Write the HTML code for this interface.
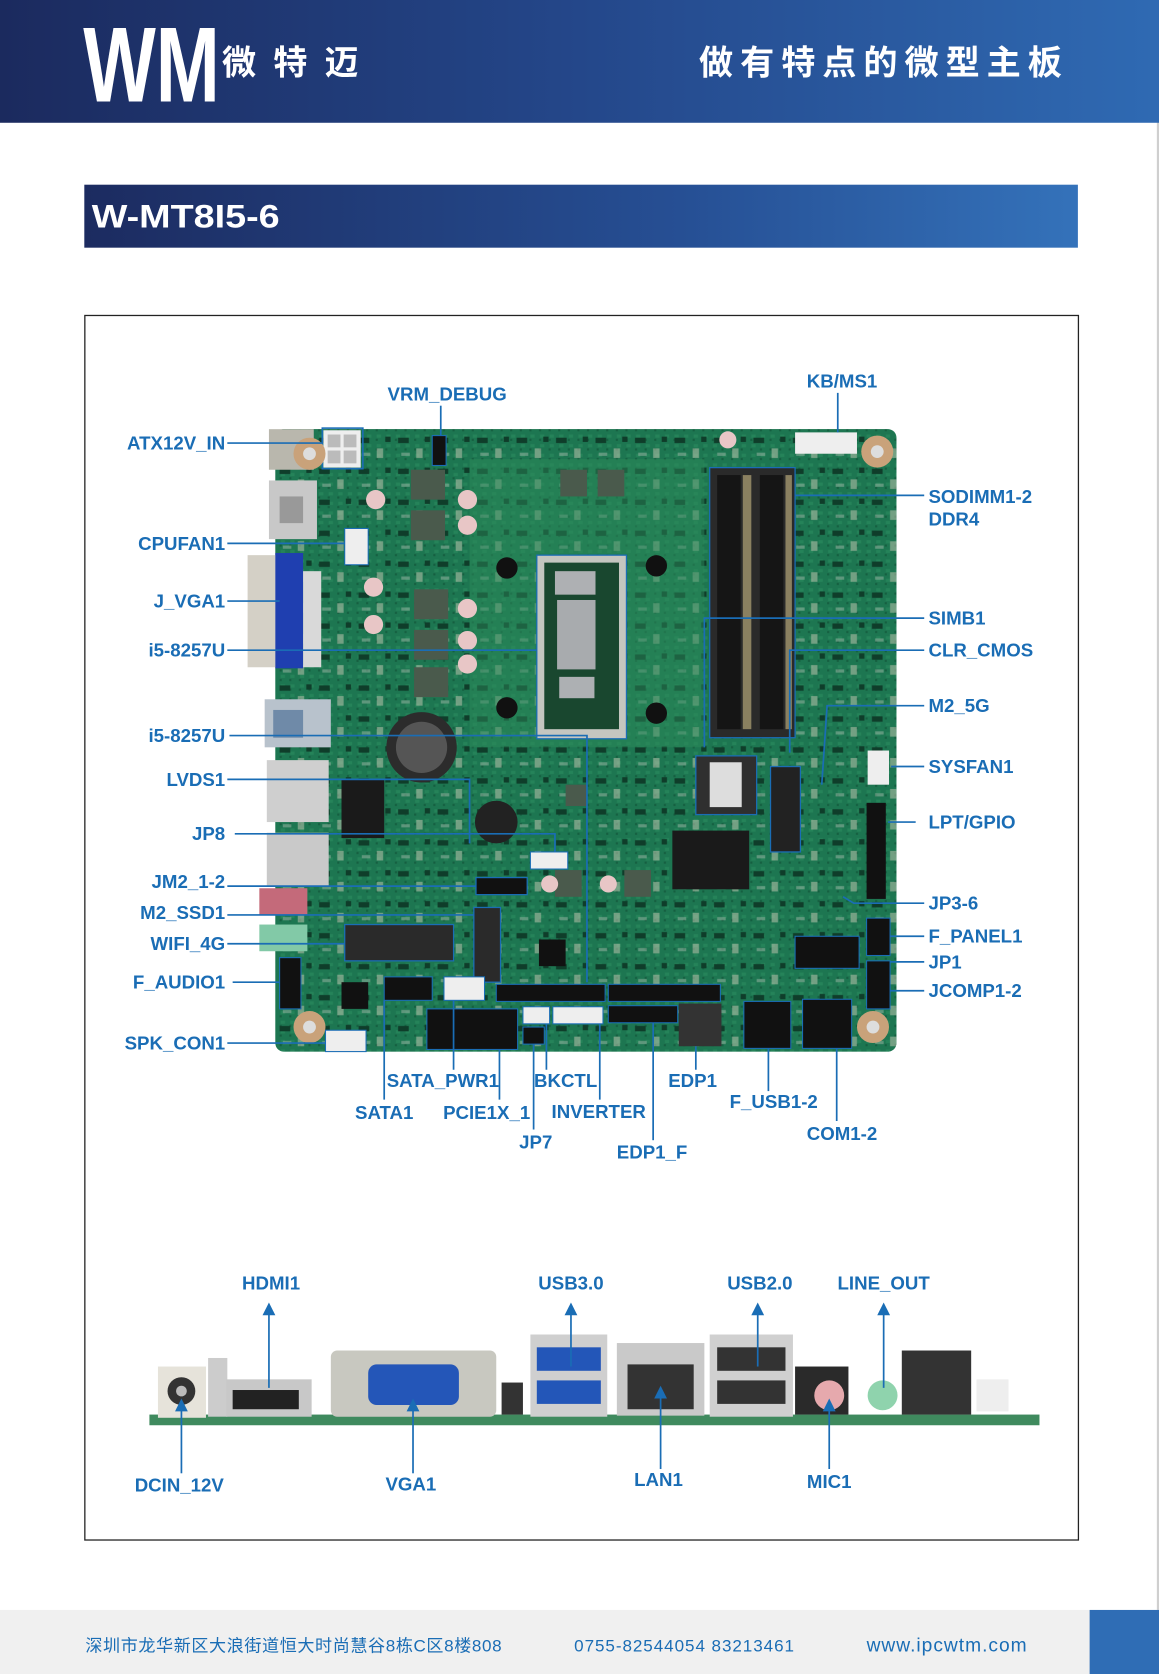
<!DOCTYPE html>
<html><head><meta charset="utf-8"><style>
html,body{margin:0;padding:0;background:#fff;}
svg{display:block;}
.l{font-family:"Liberation Sans",Arial,sans-serif;font-weight:bold;font-size:17.5px;fill:#1a6db5;}
.ln{stroke:#1a6db5;stroke-width:1.6;fill:none;}
.cn{fill:none;stroke:#1a6db5;stroke-width:1.5;}
</style></head><body>
<svg width="1159" height="1674" viewBox="0 0 1086 1568" preserveAspectRatio="none" xmlns="http://www.w3.org/2000/svg">
<defs>
<linearGradient id="hg" x1="0" x2="1" y1="0" y2="0"><stop offset="0" stop-color="#1b2a5e"/><stop offset="0.5" stop-color="#24478a"/><stop offset="1" stop-color="#2f6ab3"/></linearGradient>
<linearGradient id="tg" x1="0" x2="1"><stop offset="0" stop-color="#1c2b60"/><stop offset="0.6" stop-color="#264f94"/><stop offset="1" stop-color="#3472ba"/></linearGradient>
<pattern id="dots" width="9" height="9" patternUnits="userSpaceOnUse"><rect width="9" height="9" fill="#1d7450"/><rect x="2" y="2" width="4" height="3" fill="#2a8a60"/><rect x="1" y="6" width="2" height="2" fill="#0e4a33"/></pattern>
<pattern id="comp" width="37" height="29" patternUnits="userSpaceOnUse"><rect x="3" y="4" width="10" height="5" fill="#0f3d2a"/><rect x="20" y="14" width="6" height="9" fill="#c9c9b5" opacity="0.5"/><rect x="28" y="3" width="5" height="5" fill="#0f3d2a"/><rect x="6" y="18" width="8" height="3" fill="#9fb8a8" opacity="0.5"/></pattern>
</defs>
<rect width="1086" height="1568" fill="#fff"/>
<rect x="1084" y="0" width="2" height="1568" fill="#cfcfcf"/>
<rect x="0" y="0" width="1086" height="115" fill="url(#hg)"/>
<text x="78" y="95" font-family="Liberation Sans,sans-serif" font-weight="bold" font-size="100" fill="#fff" textLength="128" lengthAdjust="spacingAndGlyphs">WM</text>
<text x="208" y="70" font-family="Liberation Sans,'Noto Sans CJK SC',sans-serif" font-weight="bold" font-size="32" fill="#fff" textLength="128">微特迈</text>
<text x="655" y="70" font-family="Liberation Sans,'Noto Sans CJK SC',sans-serif" font-weight="bold" font-size="32" fill="#fff" textLength="340">做有特点的微型主板</text>
<rect x="79" y="173" width="931" height="59" fill="url(#tg)"/>
<text x="86" y="213" font-family="Liberation Sans,sans-serif" font-weight="bold" font-size="30" fill="#fff" textLength="176" lengthAdjust="spacingAndGlyphs">W-MT8I5-6</text>
<rect x="79.5" y="295.5" width="931" height="1147" fill="none" stroke="#222" stroke-width="1.2"/>
<!-- board -->
<rect x="258" y="402" width="582" height="583" rx="8" fill="url(#dots)"/>
<rect x="258" y="402" width="582" height="583" rx="8" fill="#1f7a52" opacity="0.45"/>
<rect x="258" y="402" width="582" height="583" rx="8" fill="url(#comp)"/>
<rect x="440" y="430" width="220" height="270" fill="#2b8a5a" opacity="0.5"/>
<rect x="252" y="402" width="42" height="38" fill="#b9b7ad"/>
<rect x="252" y="450" width="45" height="55" fill="#c8c8c8"/><rect x="262" y="465" width="22" height="25" fill="#999"/>
<rect x="232" y="520" width="28" height="105" fill="#d4d0c6"/>
<rect x="258" y="518" width="26" height="108" fill="#1f3fb0"/>
<rect x="284" y="535" width="17" height="90" fill="#d9d9d9"/>
<rect x="248" y="655" width="62" height="45" fill="#b8c2cc"/><rect x="256" y="665" width="28" height="26" fill="#6f8aa8"/>
<rect x="250" y="712" width="58" height="58" fill="#cfcfcf"/>
<rect x="250" y="780" width="58" height="50" fill="#c9c9c9"/>
<rect x="243" y="832" width="45" height="25" fill="#c46a7a"/>
<rect x="243" y="866" width="45" height="25" fill="#82c9a7"/>
<rect x="303" y="403" width="35" height="35" fill="#eee"/>
<rect x="307" y="407" width="12" height="12" fill="#bbb"/><rect x="322" y="407" width="12" height="12" fill="#bbb"/><rect x="307" y="422" width="12" height="12" fill="#bbb"/><rect x="322" y="422" width="12" height="12" fill="#bbb"/>
<rect x="302" y="401" width="38" height="38" class="cn"/>
<circle cx="290" cy="425" r="15" fill="#c9a27a"/><circle cx="290" cy="425" r="6" fill="#ddd"/>
<circle cx="822" cy="423" r="15" fill="#c9a27a"/><circle cx="822" cy="423" r="6" fill="#ddd"/>
<circle cx="290" cy="962" r="15" fill="#c9a27a"/><circle cx="290" cy="962" r="6" fill="#ddd"/>
<circle cx="818" cy="962" r="15" fill="#c9a27a"/><circle cx="818" cy="962" r="6" fill="#ddd"/>
<g fill="#4a5a4c"><rect x="385" y="440" width="32" height="28"/><rect x="385" y="478" width="32" height="28"/><rect x="388" y="552" width="32" height="28"/><rect x="388" y="590" width="32" height="28"/><rect x="388" y="625" width="32" height="28"/><rect x="525" y="440" width="25" height="25"/><rect x="560" y="440" width="25" height="25"/><rect x="520" y="815" width="25" height="25"/><rect x="585" y="815" width="25" height="25"/><rect x="530" y="735" width="20" height="20"/></g>
<g fill="#e8c6c6"><circle cx="352" cy="468" r="9"/><circle cx="438" cy="468" r="9"/><circle cx="438" cy="492" r="9"/><circle cx="350" cy="550" r="9"/><circle cx="350" cy="585" r="9"/><circle cx="438" cy="570" r="9"/><circle cx="438" cy="600" r="9"/><circle cx="438" cy="622" r="9"/><circle cx="515" cy="828" r="8"/><circle cx="570" cy="828" r="8"/><circle cx="682" cy="412" r="8"/></g>
<rect x="503" y="520" width="84" height="172" fill="#c4c6c0" stroke="#1a6db5" stroke-width="1.2"/>
<rect x="510" y="527" width="70" height="156" fill="#19472f"/>
<rect x="520" y="535" width="38" height="22" fill="#aeb0b3"/><rect x="522" y="562" width="36" height="65" fill="#a8abae"/><rect x="524" y="634" width="33" height="20" fill="#adb0b3"/>
<circle cx="475" cy="532" r="10" fill="#111"/><circle cx="615" cy="530" r="10" fill="#111"/><circle cx="475" cy="663" r="10" fill="#111"/><circle cx="615" cy="668" r="10" fill="#111"/>
<rect x="665" y="438" width="80" height="253" fill="#2a2a2a" stroke="#1a6db5" stroke-width="1.2"/>
<rect x="672" y="445" width="22" height="238" fill="#151515"/><rect x="712" y="445" width="22" height="238" fill="#151515"/>
<rect x="696" y="445" width="8" height="238" fill="#8a8060"/><rect x="736" y="445" width="6" height="238" fill="#8a8060"/>
<rect x="745" y="405" width="58" height="20" fill="#eee"/>
<circle cx="395" cy="700" r="33" fill="#2c2c2c"/><circle cx="395" cy="700" r="24" fill="#555"/>
<circle cx="465" cy="770" r="20" fill="#222"/>
<rect x="630" y="778" width="72" height="55" fill="#1a1a1a"/>
<rect x="652" y="708" width="57" height="55" fill="#2f2f2f" stroke="#1a6db5" stroke-width="1.2"/><rect x="665" y="714" width="30" height="42" fill="#ddd"/>
<rect x="722" y="718" width="28" height="80" fill="#222" stroke="#1a6db5" stroke-width="1.2"/>
<rect x="320" y="730" width="40" height="55" fill="#1a1a1a"/>
<rect x="505" y="880" width="25" height="25" fill="#111"/><rect x="320" y="920" width="25" height="25" fill="#111"/>
<rect x="812" y="752" width="18" height="90" fill="#111"/>
<rect x="813" y="703" width="20" height="32" fill="#eee"/>
<rect x="323" y="866" width="102" height="34" fill="#2a2a2a" stroke="#1a6db5" stroke-width="1.2"/>
<rect x="444" y="850" width="25" height="70" fill="#2a2a2a" stroke="#1a6db5" stroke-width="1.2"/>
<rect x="446" y="822" width="48" height="16" fill="#111" stroke="#1a6db5" stroke-width="1.2"/>
<rect x="360" y="915" width="45" height="22" fill="#111" stroke="#1a6db5"/>
<rect x="416" y="915" width="38" height="22" fill="#eee" stroke="#1a6db5"/>
<rect x="465" y="922" width="102" height="16" fill="#111" stroke="#1a6db5"/>
<rect x="570" y="922" width="105" height="16" fill="#111" stroke="#1a6db5"/>
<rect x="400" y="945" width="85" height="38" fill="#111" stroke="#1a6db5"/>
<rect x="490" y="943" width="25" height="16" fill="#eee" stroke="#1a6db5"/>
<rect x="518" y="943" width="47" height="16" fill="#eee" stroke="#1a6db5"/>
<rect x="570" y="942" width="65" height="16" fill="#111" stroke="#1a6db5"/>
<rect x="490" y="962" width="20" height="16" fill="#111" stroke="#1a6db5"/>
<rect x="636" y="940" width="40" height="40" fill="#333"/>
<rect x="697" y="938" width="44" height="44" fill="#111" stroke="#1a6db5"/>
<rect x="752" y="936" width="46" height="46" fill="#111" stroke="#1a6db5"/>
<rect x="745" y="877" width="60" height="30" fill="#111" stroke="#1a6db5"/>
<rect x="812" y="860" width="22" height="35" fill="#111" stroke="#1a6db5"/>
<rect x="812" y="900" width="22" height="45" fill="#111" stroke="#1a6db5"/>
<rect x="262" y="897" width="20" height="48" fill="#111" stroke="#1a6db5"/>
<rect x="305" y="965" width="38" height="20" fill="#eee" stroke="#1a6db5"/>
<rect x="323" y="495" width="22" height="34" fill="#eee" stroke="#1a6db5"/>
<rect x="497" y="798" width="35" height="16" fill="#eee" stroke="#1a6db5"/>
<rect x="405" y="408" width="13" height="28" fill="#111" stroke="#1a6db5"/>
<g class="ln">
<line x1="213" y1="415" x2="302" y2="415"/>
<line x1="213" y1="509" x2="323" y2="509"/>
<line x1="213" y1="563" x2="262" y2="563"/>
<line x1="213" y1="609" x2="503" y2="609"/>
<polyline points="215,689 550,689 550,920"/>
<polyline points="213,730 440,730 440,790"/>
<polyline points="220,781 520,781 520,798"/>
<line x1="213" y1="830" x2="446" y2="830"/>
<line x1="213" y1="857" x2="444" y2="857"/>
<line x1="213" y1="884" x2="323" y2="884"/>
<line x1="218" y1="920" x2="262" y2="920"/>
<line x1="213" y1="977" x2="305" y2="977"/>
<polyline points="413,380 413,408"/>
<polyline points="785,368 785,405"/>
<line x1="745" y1="464" x2="866" y2="464"/>
<polyline points="660,700 660,579 866,579"/>
<polyline points="740,705 740,609 866,609"/>
<polyline points="770,735 775,661 866,661"/>
<line x1="835" y1="718" x2="866" y2="718"/>
<line x1="832" y1="770" x2="858" y2="770"/>
<polyline points="790,840 800,846 866,846"/>
<line x1="834" y1="877" x2="866" y2="877"/>
<line x1="834" y1="901" x2="866" y2="901"/>
<line x1="834" y1="928" x2="866" y2="928"/>
<line x1="360" y1="937" x2="360" y2="1030"/>
<line x1="425" y1="937" x2="425" y2="1002"/>
<line x1="468" y1="983" x2="468" y2="1030"/>
<line x1="500" y1="978" x2="500" y2="1058"/>
<line x1="512" y1="959" x2="512" y2="1002"/>
<line x1="562" y1="959" x2="562" y2="1030"/>
<line x1="612" y1="958" x2="612" y2="1068"/>
<line x1="652" y1="980" x2="652" y2="1002"/>
<line x1="720" y1="982" x2="720" y2="1022"/>
<line x1="784" y1="982" x2="784" y2="1050"/>
</g>
<g class="l">
<text x="419" y="375" text-anchor="middle">VRM_DEBUG</text>
<text x="789" y="363" text-anchor="middle">KB/MS1</text>
<g text-anchor="end">
<text x="211" y="421">ATX12V_IN</text>
<text x="211" y="515">CPUFAN1</text>
<text x="211" y="569">J_VGA1</text>
<text x="211" y="615">i5-8257U</text>
<text x="211" y="695">i5-8257U</text>
<text x="211" y="736">LVDS1</text>
<text x="211" y="787">JP8</text>
<text x="211" y="832">JM2_1-2</text>
<text x="211" y="861">M2_SSD1</text>
<text x="211" y="890">WIFI_4G</text>
<text x="211" y="926">F_AUDIO1</text>
<text x="211" y="983">SPK_CON1</text>
</g>
<text x="870" y="471">SODIMM1-2</text>
<text x="870" y="492">DDR4</text>
<text x="870" y="585">SIMB1</text>
<text x="870" y="615">CLR_CMOS</text>
<text x="870" y="667">M2_5G</text>
<text x="870" y="724">SYSFAN1</text>
<text x="870" y="776">LPT/GPIO</text>
<text x="870" y="852">JP3-6</text>
<text x="870" y="883">F_PANEL1</text>
<text x="870" y="907">JP1</text>
<text x="870" y="934">JCOMP1-2</text>
<g text-anchor="middle">
<text x="415" y="1018">SATA_PWR1</text>
<text x="360" y="1048">SATA1</text>
<text x="456" y="1048">PCIE1X_1</text>
<text x="530" y="1018">BKCTL</text>
<text x="561" y="1047">INVERTER</text>
<text x="502" y="1076">JP7</text>
<text x="649" y="1018">EDP1</text>
<text x="611" y="1085">EDP1_F</text>
<text x="725" y="1038">F_USB1-2</text>
<text x="789" y="1068">COM1-2</text>
<text x="254" y="1208">HDMI1</text>
<text x="535" y="1208">USB3.0</text>
<text x="712" y="1208">USB2.0</text>
<text x="828" y="1208">LINE_OUT</text>
<text x="168" y="1397">DCIN_12V</text>
<text x="385" y="1396">VGA1</text>
<text x="617" y="1392">LAN1</text>
<text x="777" y="1394">MIC1</text>
</g>
</g>
<rect x="140" y="1325" width="834" height="10" fill="#3f8a5e"/>
<rect x="148" y="1280" width="45" height="48" fill="#e6e3da"/><circle cx="170" cy="1303" r="13" fill="#333"/><circle cx="170" cy="1303" r="5" fill="#bbb"/>
<rect x="195" y="1272" width="18" height="55" fill="#ccc"/>
<rect x="212" y="1292" width="80" height="35" fill="#c8c8c8"/><rect x="218" y="1302" width="62" height="18" fill="#222"/>
<rect x="310" y="1265" width="155" height="62" rx="6" fill="#c8c8c0"/><rect x="345" y="1278" width="85" height="38" rx="8" fill="#2456b8"/>
<rect x="470" y="1295" width="20" height="30" fill="#333"/>
<rect x="497" y="1250" width="72" height="77" fill="#cfcfcf"/><rect x="503" y="1262" width="60" height="22" fill="#2356b8"/><rect x="503" y="1293" width="60" height="22" fill="#2356b8"/>
<rect x="578" y="1258" width="82" height="68" fill="#c9c9c9"/><rect x="588" y="1278" width="62" height="42" fill="#333"/>
<rect x="665" y="1250" width="78" height="77" fill="#d0d0d0"/><rect x="672" y="1262" width="64" height="22" fill="#333"/><rect x="672" y="1293" width="64" height="22" fill="#333"/>
<rect x="745" y="1280" width="50" height="45" fill="#2a2a2a"/>
<circle cx="777" cy="1307" r="14" fill="#e6a9ad"/><circle cx="827" cy="1307" r="14" fill="#8fd3ad"/>
<rect x="845" y="1265" width="65" height="60" fill="#333"/><rect x="915" y="1292" width="30" height="30" fill="#eee"/>
<g class="ln">
<line x1="252" y1="1300" x2="252" y2="1230"/><line x1="535" y1="1280" x2="535" y2="1230"/><line x1="710" y1="1280" x2="710" y2="1230"/><line x1="828" y1="1300" x2="828" y2="1230"/>
<line x1="170" y1="1318" x2="170" y2="1380"/><line x1="387" y1="1315" x2="387" y2="1380"/><line x1="619" y1="1300" x2="619" y2="1376"/><line x1="777" y1="1312" x2="777" y2="1376"/>
</g>
<g fill="#1a6db5">
<polygon points="246,1232 258,1232 252,1220"/><polygon points="529,1232 541,1232 535,1220"/><polygon points="704,1232 716,1232 710,1220"/><polygon points="822,1232 834,1232 828,1220"/>
<polygon points="164,1322 176,1322 170,1310"/><polygon points="381,1322 393,1322 387,1310"/><polygon points="613,1310 625,1310 619,1298"/><polygon points="771,1322 783,1322 777,1310"/>
</g>
<rect x="0" y="1508" width="1086" height="60" fill="#f0f0f0"/>
<rect x="1021" y="1508" width="65" height="60" fill="#2f6db5"/>
<g font-family="Liberation Sans,'Noto Sans CJK SC',sans-serif" fill="#1a6db5">
<text x="80" y="1547" font-size="16" textLength="390">深圳市龙华新区大浪街道恒大时尚慧谷8栋C区8楼808</text>
<text x="538" y="1547" font-size="16" textLength="206">0755-82544054  83213461</text>
<text x="812" y="1547" font-size="18" textLength="150">www.ipcwtm.com</text>
</g>
</svg>
</body></html>
